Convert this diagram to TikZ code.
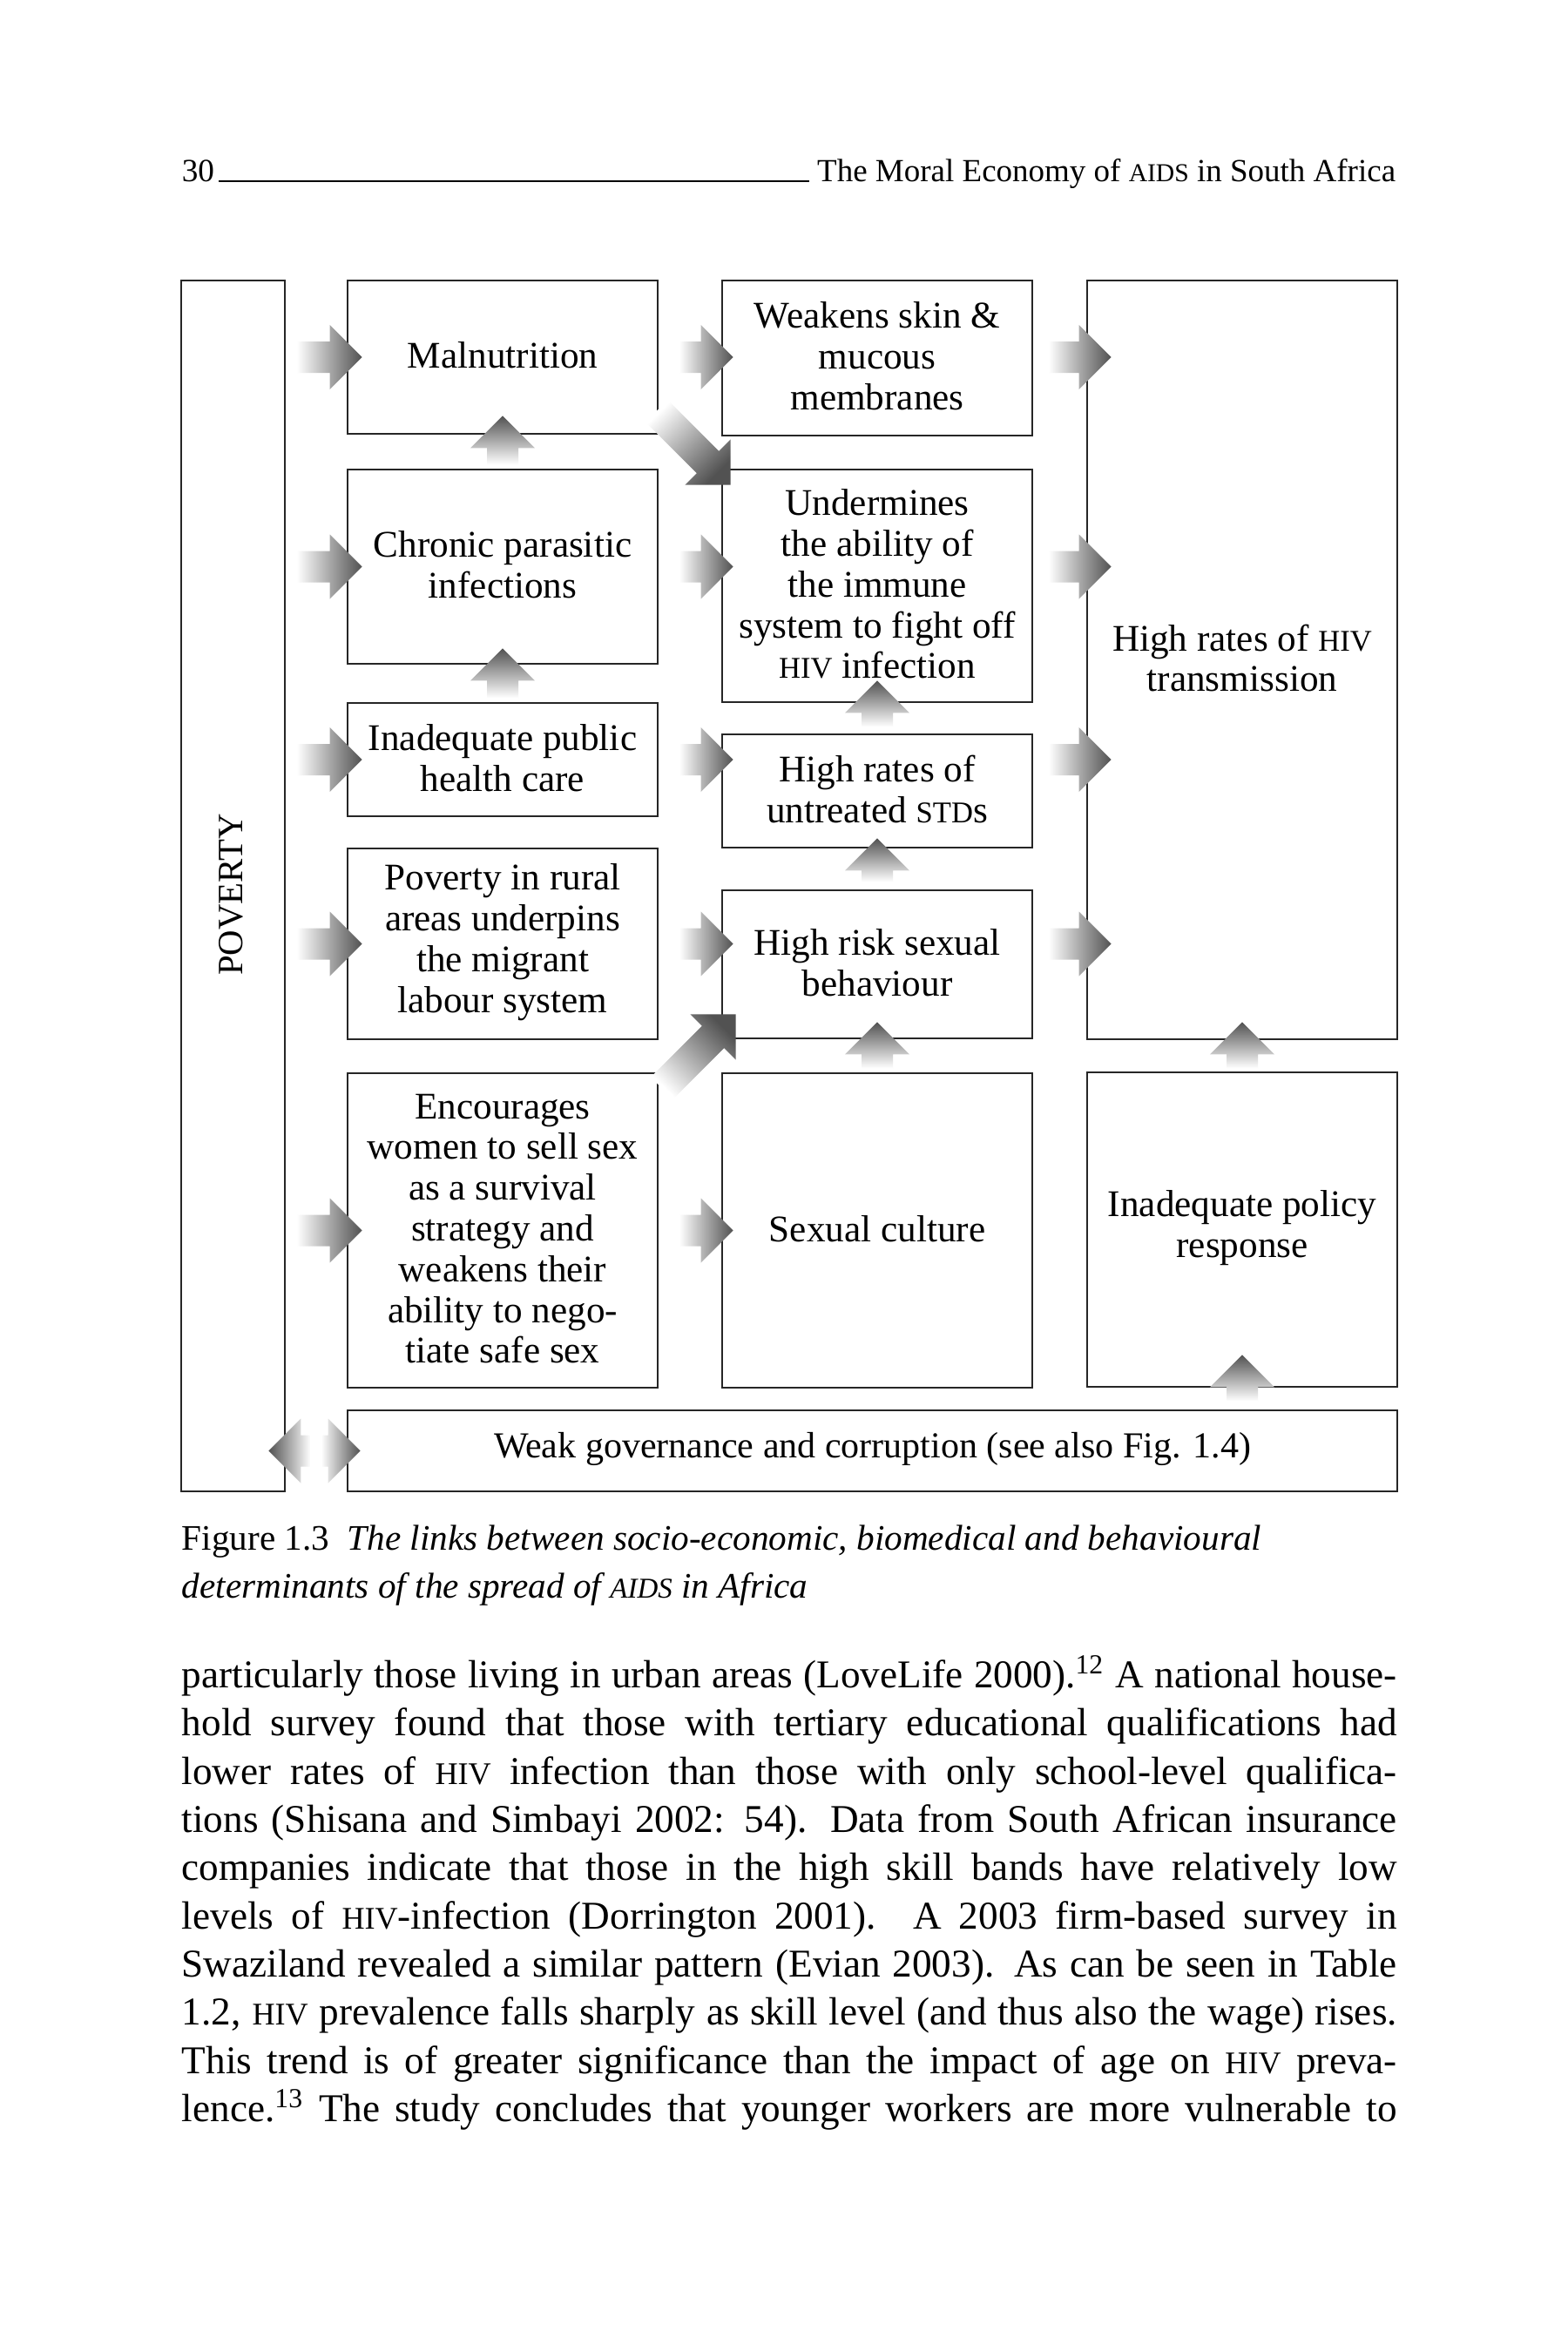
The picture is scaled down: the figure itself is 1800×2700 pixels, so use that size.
\documentclass[tikz,border=0pt]{standalone}
\usepackage{fontspec}
\setmainfont{Liberation Serif}
\usepackage{graphicx}
\usetikzlibrary{calc,fit}

\newcommand{\smc}[1]{\scalebox{0.8}{#1}}
\newcommand{\bodyline}[1]{\makebox[348.75pt][s]{#1}}

% block arrow: tip, direction x, direction y, length, shading angle
\newcommand{\flowarrow}[5]{%
  \coordinate (tip) at (#1);
  \shade[flowshade, shading angle=#5] (tip)
    -- ($(tip)+({-37*(#2)-37*(#3)},{-37*(#3)+37*(#2)})$)
    -- ($(tip)+({-37*(#2)-18*(#3)},{-37*(#3)+18*(#2)})$)
    -- ($(tip)+({-#4*(#2)-18*(#3)},{-#4*(#3)+18*(#2)})$)
    -- ($(tip)+({-#4*(#2)+18*(#3)},{-#4*(#3)-18*(#2)})$)
    -- ($(tip)+({-37*(#2)+18*(#3)},{-37*(#3)-18*(#2)})$)
    -- ($(tip)+({-37*(#2)+37*(#3)},{-37*(#3)-37*(#2)})$)
    -- cycle;}

\tikzset{
  box/.style={draw=black!85, line width=0.65pt, inner sep=0pt},
  boxtext/.style={inner sep=0pt, align=center, font=\fontsize{10.8pt}{11.7pt}\selectfont},
  flowshade/.style={top color=white, bottom color=black!68},
}

\begin{document}
\begin{tikzpicture}[x=0.25pt, y=-0.25pt]
\useasboundingbox (0,0) rectangle (1800,2700);
\fill[white] (0,0) rectangle (1800,2700);

% running head
\node[anchor=base west, inner sep=0pt, font=\fontsize{9.3pt}{11pt}\selectfont] (pagenum) at (208,208) {30};
\node[anchor=base east, inner sep=0pt, font=\fontsize{9.25pt}{11pt}\selectfont] (runhead) at (1603,208) {The Moral Economy of \smc{AIDS} in South Africa};
\draw[line width=0.6pt] ([xshift=1pt]pagenum.base east) -- ([xshift=-2pt]runhead.base west);

% boxes
\node[box, fit={(208,322) (327,1712)}] (pov) {};
\node[box, fit={(399,322) (755,498)}] (mal) {};
\node[box, fit={(399,539) (755,762)}] (chron) {};
\node[box, fit={(399,807) (755,937)}] (inad) {};
\node[box, fit={(399,974) (755,1193)}] (rural) {};
\node[box, fit={(399,1232) (755,1593)}] (enc) {};
\node[box, fit={(829,322) (1185,500)}] (skin) {};
\node[box, fit={(829,539) (1185,806)}] (under) {};
\node[box, fit={(829,843) (1185,973)}] (std) {};
\node[box, fit={(829,1022) (1185,1192)}] (risk) {};
\node[box, fit={(829,1232) (1185,1593)}] (cult) {};
\node[box, fit={(1248,322) (1604,1193)}] (hiv) {};
\node[box, fit={(1248,1231) (1604,1592)}] (pol) {};
\node[box, fit={(399,1619) (1604,1712)}] (gov) {};

% box texts
\node[rotate=90, inner sep=0pt, font=\fontsize{10.2pt}{11pt}\selectfont] (povtx) at ($(pov.center)+(-2,10)$) {POVERTY};
\node[boxtext] (maltx) at ($(mal.center)+(0,-2)$) {Malnutrition};
\node[boxtext] (chrontx) at ($(chron.center)+(0,-2)$) {Chronic parasitic\\infections};
\node[boxtext] (inadtx) at ($(inad.center)+(0,-2)$) {Inadequate public\\health care};
\node[boxtext] (ruraltx) at ($(rural.center)+(0,-2)$) {Poverty in rural\\areas underpins\\the migrant\\labour system};
\node[boxtext] (enctx) at ($(enc.center)+(0,-2)$) {Encourages\\women to sell sex\\as a survival\\strategy and\\weakens their\\ability to nego-\\tiate safe sex};
\node[boxtext] (skintx) at ($(skin.center)+(0,-2)$) {Weakens skin \&\\mucous\\membranes};
\node[boxtext] (undertx) at ($(under.center)+(0,-2)$) {Undermines\\the ability of\\the immune\\system to fight off\\\smc{HIV} infection};
\node[boxtext] (stdtx) at ($(std.center)+(0,-2)$) {High rates of\\untreated \smc{STD}s};
\node[boxtext] (risktx) at ($(risk.center)+(0,-2)$) {High risk sexual\\behaviour};
\node[boxtext] (culttx) at ($(cult.center)+(0,-2)$) {Sexual culture};
\node[boxtext] (hivtx) at ($(hiv.center)+(0,-2)$) {High rates of \smc{HIV}\\transmission};
\node[boxtext] (poltx) at ($(pol.center)+(0,-2)$) {Inadequate policy\\response};
\node[boxtext, font=\fontsize{10.5pt}{11.7pt}\selectfont] (govtx) at ($(gov.center)+(0,-2)$) {Weak governance and corruption (see also Fig. 1.4)};

% poverty into the first column
\foreach \b in {mal,chron,inad,rural,enc}
  \flowarrow{$(\b.west)+(18,0)$}{1}{0}{75}{90};
% first column into the second
\foreach \b/\r in {skin/mal,under/chron,std/inad,risk/rural,cult/enc}
  \flowarrow{$(\b.west |- \r.west)+(14,0)$}{1}{0}{62}{90};
% second column into transmission
\foreach \r in {mal,chron,inad,rural}
  \flowarrow{$(hiv.west |- \r.west)+(29,0)$}{1}{0}{72}{90};
% upward links
\foreach \u/\d/\l in {mal/22/56,chron/19/57,under/26/53,std/12/50,risk/20/53,hiv/21/53,pol/38/53}
  \flowarrow{$(\u.south)+(0,-\d)$}{0}{-1}{\l}{180};
% diagonal links
\flowarrow{$(under.north west)+(11,19)$}{0.7071}{0.7071}{120}{45};
\flowarrow{$(risk.south west)+(17,-29)$}{0.7071}{-0.7071}{120}{135};
% governance and poverty
\flowarrow{$(gov.west)+(16,0)$}{1}{0}{45}{90};
\flowarrow{$(pov.east |- gov.west)+(-20,0)$}{-1}{0}{48}{270};

% caption
\node[anchor=north west, inner sep=0pt, align=left, font=\fontsize{10.3pt}{13.75pt}\selectfont] (caption) at (208,1750)
  {Figure 1.3\enspace\textit{The links between socio-economic, biomedical and behavioural}\\
   \textit{determinants of the spread of \smc{AIDS} in Africa}};

% running text
\node[anchor=north west, inner sep=0pt, align=left, font=\fontsize{11.3pt}{13.83pt}\selectfont] (body) at (208,1900)
  {\bodyline{particularly those living in urban areas (LoveLife 2000).\textsuperscript{12} A national house-}\\
   \bodyline{hold survey found that those with tertiary educational qualifications had}\\
   \bodyline{lower rates of \smc{HIV} infection than those with only school-level qualifica-}\\
   \bodyline{tions (Shisana and Simbayi 2002: 54). Data from South African insurance}\\
   \bodyline{companies indicate that those in the high skill bands have relatively low}\\
   \bodyline{levels of \smc{HIV}-infection (Dorrington 2001). A 2003 firm-based survey in}\\
   \bodyline{Swaziland revealed a similar pattern (Evian 2003). As can be seen in Table}\\
   \bodyline{1.2, \smc{HIV} prevalence falls sharply as skill level (and thus also the wage) rises.}\\
   \bodyline{This trend is of greater significance than the impact of age on \smc{HIV} preva-}\\
   \bodyline{lence.\textsuperscript{13} The study concludes that younger workers are more vulnerable to}};
\end{tikzpicture}
\end{document}
